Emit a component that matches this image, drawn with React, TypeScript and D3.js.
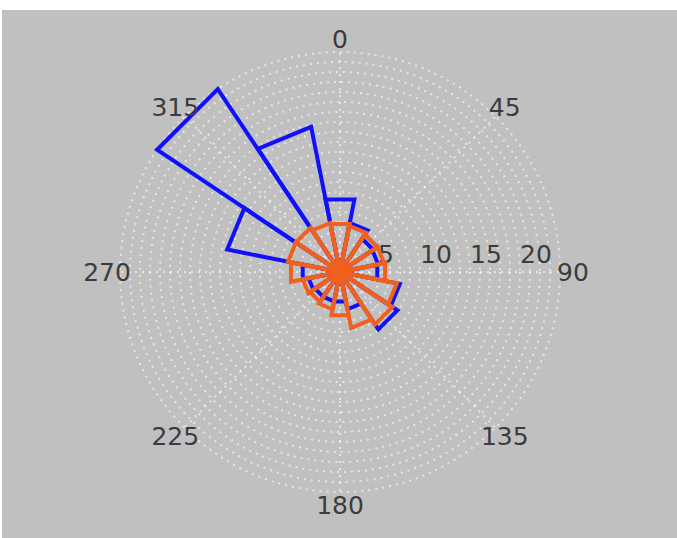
import React from "react";
import * as d3 from "d3";

const directions = [0, 22.5, 45, 67.5, 90, 112.5, 135, 157.5, 180, 202.5, 225, 247.5, 270, 292.5, 315, 337.5];
const blueValues = [7.4, 5.0, 4.0, 3.9, 3.8, 6.1, 6.9, 3.8, 3.0, 3.0, 3.0, 3.2, 3.8, 11.5, 22.0, 14.8];
const orangeValues = [4.9, 4.7, 4.5, 4.5, 4.6, 5.8, 6.3, 5.7, 4.4, 3.8, 3.6, 3.8, 5.0, 5.3, 5.3, 5.0];
const angleLabels = ["0", "45", "90", "135", "180", "225", "270", "315"];
const radialTicks = [5, 10, 15, 20];
const gridRings = d3.range(1, 23);

const W = 677;
const H = 538;
const cx = 340;
const cy = 272;
const binWidth = 22.5;

export default function App() {
  const r = d3.scaleLinear().domain([0, 22.5]).range([0, 225]);
  const toRad = (deg: number) => (deg * Math.PI) / 180;

  const bar = d3
    .lineRadial<[number, number]>()
    .angle((d) => toRad(d[0]))
    .radius((d) => r(d[1]))
    .curve(d3.curveLinearClosed);

  const barPath = (dir: number, v: number) =>
    bar([
      [dir, 0],
      [dir - binWidth / 2, v],
      [dir + binWidth / 2, v],
    ]) || "";

  const font = "'DejaVu Sans', sans-serif";

  return (
    <svg
      width={W}
      height={H}
      style={{ position: "absolute", left: 0, top: 0, display: "block" }}
    >
      <rect x={0} y={0} width={W} height={H} fill="#ffffff" />
      <rect x={2} y={10} width={W - 2} height={H - 10} fill="#c0c0c0" />
      <g transform={`translate(${cx},${cy})`}>
        {gridRings.map((k) => (
          <circle
            key={k}
            r={r(k)}
            fill="none"
            stroke="#ffffff"
            strokeOpacity={0.6}
            strokeWidth={2}
            strokeDasharray="2 5"
          />
        ))}
        {angleLabels.map((_, i) => {
          const a = toRad(i * 45);
          return (
            <line
              key={i}
              x1={0}
              y1={0}
              x2={r(22) * Math.sin(a)}
              y2={-r(22) * Math.cos(a)}
              stroke="#ffffff"
              strokeOpacity={0.6}
              strokeWidth={2}
              strokeDasharray="2 5"
            />
          );
        })}
        {radialTicks.map((t) => (
          <text
            key={t}
            x={r(t) - 4}
            y={-18}
            textAnchor="middle"
            dominantBaseline="central"
            fontFamily={font}
            fontSize={25}
            fill="#3c3c3c"
          >
            {t}
          </text>
        ))}
        {directions.map((d, i) => (
          <path
            key={"b" + i}
            d={barPath(d, blueValues[i])}
            fill="none"
            stroke="#1010ff"
            strokeWidth={4}
            strokeLinejoin="miter"
          />
        ))}
        {directions.map((d, i) => (
          <path
            key={"o" + i}
            d={barPath(d, orangeValues[i])}
            fill="none"
            stroke="#f0601e"
            strokeWidth={4}
            strokeLinejoin="miter"
          />
        ))}
        {angleLabels.map((lab, i) => {
          const a = toRad(i * 45);
          const rr = 233;
          return (
            <text
              key={lab}
              x={rr * Math.sin(a)}
              y={-rr * Math.cos(a)}
              textAnchor="middle"
              dominantBaseline="central"
              fontFamily={font}
              fontSize={25}
              fill="#3c3c3c"
            >
              {lab}
            </text>
          );
        })}
      </g>
    </svg>
  );
}
